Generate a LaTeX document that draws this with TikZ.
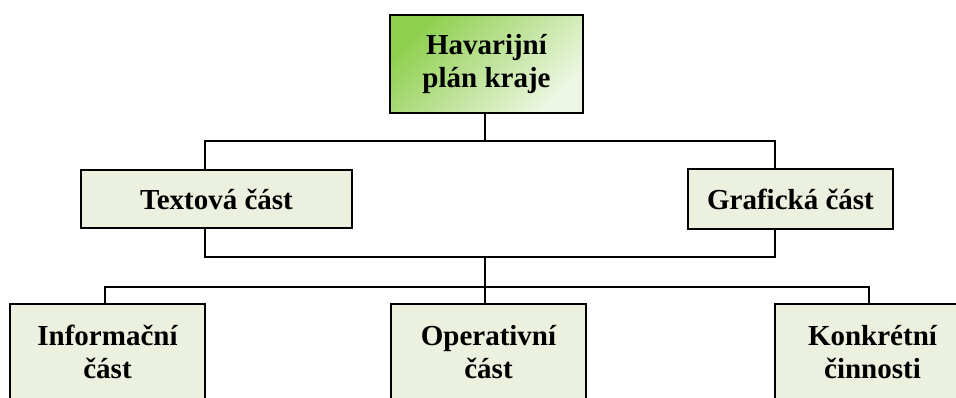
\documentclass[tikz,border=0pt]{standalone}
\usepackage{fontspec}
\setmainfont{Liberation Serif}
\usetikzlibrary{positioning}

\definecolor{boxfill}{HTML}{EBF1DE}
\definecolor{topgreen}{HTML}{8FCF4E}
\definecolor{toplight}{HTML}{EDF6E3}

\begin{document}
\begin{tikzpicture}[
  x=1pt, y=1pt,
  every node/.style={font=\fontsize{29}{33}\selectfont\bfseries},
  box/.style={rectangle, draw=black, line width=1.8pt,
              fill=boxfill, align=center, inner sep=0pt},
  rootbox/.style={box, line width=2.4pt,
                  top color=topgreen, bottom color=toplight,
                  shading angle=45},
  conn/.style={line width=1.6pt, draw=black},
]

%% ── Frame ─────────────────────────────────────────────
\useasboundingbox (0,0) rectangle (956,398);

%% ── Row heights ───────────────────────────────────────
\def\ya{334}   % root row y
\def\yb{199}   % middle row y
\def\yc{46}    % bottom row y

%% ── Nodes (top → bottom) ──────────────────────────────
\node[rootbox, minimum width=193pt, minimum height=98pt] (havplan)
  at (486.5,\ya) {Havarijní\\plán kraje};

\node[box, minimum width=271pt, minimum height=58pt] (textova)
  at (216.5,\yb) {Textová část};
\node[box, minimum width=205pt, minimum height=60pt] (graficka)
  at (790.5,\yb) {Grafická část};

\node[box, minimum width=195pt, minimum height=96pt] (informacni)
  at (107.5,\yc) {Informační\\část};
\node[box, minimum width=195pt, minimum height=96pt] (operativni)
  at (488.5,\yc) {Operativní\\část};
\node[box, minimum width=195pt, minimum height=96pt] (konkretni)
  at (872.5,\yc) {Konkrétní\\činnosti};

%% ── Bus lines ─────────────────────────────────────────
\coordinate (bus1) at (485,257);
\coordinate (bus2) at (485,141);
\coordinate (bus3) at (485,111);

%% ── Connectors ────────────────────────────────────────
\draw[conn] ([xshift=-1.5pt]havplan.south) -- (bus1);
\draw[conn] ([xshift=-11.5pt]textova.north) |- (bus1)
            -| ([xshift=-15.5pt]graficka.north);
\draw[conn] ([xshift=-11.5pt]textova.south) |- (bus2)
            -| ([xshift=-15.5pt]graficka.south);
\draw[conn] (bus2) -- (bus2 |- operativni.north);
\draw[conn] ([xshift=-2.5pt]informacni.north) |- (bus3)
            -| ([xshift=-3.5pt]konkretni.north);

\end{tikzpicture}
\end{document}
